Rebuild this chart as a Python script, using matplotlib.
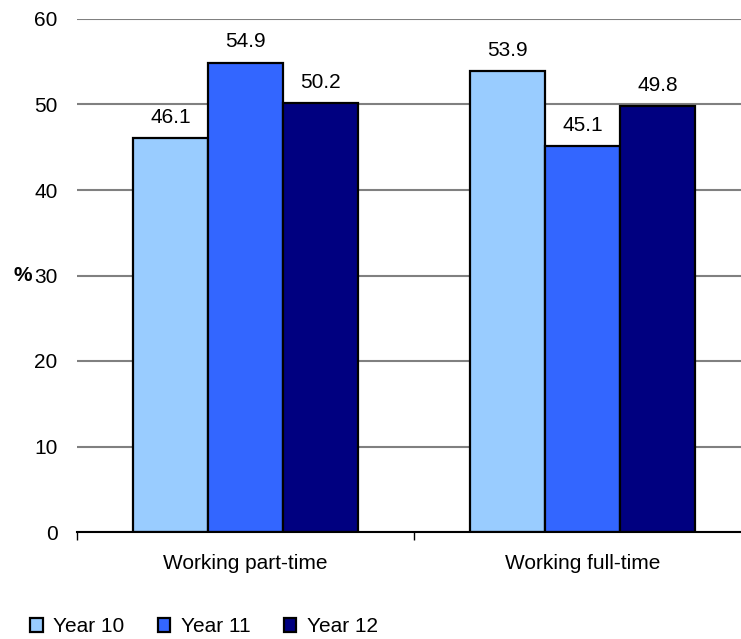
import numpy as np
import matplotlib.pyplot as plt
from matplotlib.ticker import FixedLocator

plt.rcParams['font.family'] = ['Liberation Sans', 'DejaVu Sans']

# 数据
categories = ['Working part-time', 'Working full-time']
series_names = ['Year 10', 'Year 11', 'Year 12']
year10 = [46.1, 53.9]
year11 = [54.9, 45.1]
year12 = [50.2, 49.8]
colors = ['#99CCFF', '#3366FF', '#000080']

fig = plt.figure(figsize=(7.41, 6.39), dpi=100)
ax = fig.add_axes([77 / 741, 107 / 639, 664 / 741, 513 / 639])

x = np.arange(len(categories))
width = 0.222
for i, (vals, name) in enumerate(zip([year10, year11, year12], series_names)):
    pos = x + (i - 1) * width
    bars = ax.bar(pos, vals, width, color=colors[i], edgecolor='black',
                  linewidth=1.6, label=name, zorder=3)
    for b, v in zip(bars, vals):
        ax.annotate(f'{v:.1f}', (b.get_x() + b.get_width() / 2, v),
                    xytext=(0, 8), textcoords='offset points',
                    ha='center', va='bottom', fontsize=15)

ax.set_xlim(-0.5, 1.47)
ax.set_ylim(0, 60)
ax.set_yticks(range(0, 61, 10))
ax.yaxis.grid(True, color='#808080', linewidth=1.5, zorder=0)
ax.tick_params(axis='y', length=0, labelsize=15, pad=14)

ax.set_xticks(x)
ax.set_xticklabels(categories)
ax.xaxis.set_minor_locator(FixedLocator([-0.5, 0.5, 1.5]))
ax.tick_params(axis='x', which='major', length=0, labelsize=15, pad=16)
ax.tick_params(axis='x', which='minor', length=6, width=1, color='black')

for s in ['top', 'right', 'left']:
    ax.spines[s].set_visible(False)
ax.spines['bottom'].set_linewidth(1.5)
ax.spines['bottom'].set_zorder(4)

ax.set_ylabel('%', rotation=0, fontsize=15, fontweight='bold', labelpad=8, va='center')

fig.legend(loc='lower left', bbox_to_anchor=(20 / 741, -0.012), ncol=3, frameon=False,
           fontsize=15, handlelength=0.6, handleheight=0.6, handletextpad=0.5,
           columnspacing=1.6, borderaxespad=0.1)

fig.savefig('out.png', dpi=100)
